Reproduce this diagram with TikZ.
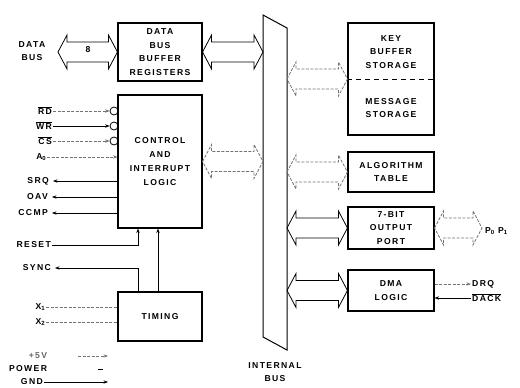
\documentclass[tikz,border=0pt]{standalone}
\usepackage{fontspec}
\setmainfont[LetterSpace=16]{Liberation Sans}
\usetikzlibrary{arrows.meta,calc}
\newcommand{\lbltxt}{\fontsize{8.6}{13.8}\selectfont\bfseries}
\newcommand{\lowsub}[1]{\raisebox{-1.8pt}{\fontsize{6}{6}\selectfont #1}}
\newcommand{\barred}[1]{$\overline{\mbox{#1}}$}
\newcommand{\widebus}[3][]{%
  \draw[wbus,#1] let \p1=(#2), \p2=(#3) in
  (\x1,\y1) -- (\x1+9pt,\y1+17pt) -- (\x1+9pt,\y1+10pt) -- (\x2-9pt,\y1+10pt)
  -- (\x2-9pt,\y1+17pt) -- (\x2,\y1) -- (\x2-9pt,\y1-17pt) -- (\x2-9pt,\y1-10pt)
  -- (\x1+9pt,\y1-10pt) -- (\x1+9pt,\y1-17pt) -- cycle;}
\tikzset{
  box/.style={draw, line width=1.1pt, inner sep=0pt, align=center, font=\lbltxt},
  lbl/.style={font=\lbltxt, inner sep=1pt},
  sig/.style={line width=0.7pt},
  tip/.style={-{Stealth[length=4.5pt,width=3.4pt]}},
  faint/.style={dash pattern=on 3pt off 1.5pt, draw=black!55},
  wbus/.style={line width=0.8pt, line join=miter},
  bubble/.style={circle, draw, line width=0.8pt, minimum size=8pt, inner sep=0pt}
}
\begin{document}
\begin{tikzpicture}[x=1pt,y=-1pt]
\useasboundingbox (0,0) rectangle (520,388);

% blocks
\node[box, minimum width=84pt, minimum height=58pt] (dbb) at (160,52) {DATA\\BUS\\BUFFER\\REGISTERS};
\node[box, minimum width=84pt, minimum height=133pt] (ctl) at (160,161.5) {CONTROL\\AND\\INTERRUPT\\LOGIC};
\node[box, minimum width=84pt, minimum height=49pt] (tim) at (160,316.5) {TIMING};
\node[box, minimum width=86pt, minimum height=112pt] (kbs) at (391,79) {};
\node[lbl, align=center] (kbt) at (391,52) {KEY\\BUFFER\\STORAGE};
\node[lbl, align=center] (mst) at (391,108) {MESSAGE\\STORAGE};
\draw[dashed, dash pattern=on 5pt off 4pt, line width=1pt] (kbs.west) -- (kbs.east);
\node[box, minimum width=86pt, minimum height=40pt] (alg) at (391,172) {ALGORITHM\\TABLE};
\node[box, minimum width=86pt, minimum height=42pt] (opp) at (391,228) {7-BIT\\OUTPUT\\PORT};
\node[box, minimum width=86pt, minimum height=41pt] (dma) at (391,290.5) {DMA\\LOGIC};

% internal bus
\coordinate (busTL) at (263,15);
\coordinate (busTR) at (287,28);
\coordinate (busBR) at (287,350);
\coordinate (busBL) at (263,337);
\draw[line width=1pt, line join=miter] (busTL) -- (busTR) -- (busBR) -- (busBL) -- cycle;
\coordinate (bl) at (263,0);
\coordinate (br) at (287,0);
\node[lbl, align=center] (ib) at (275,372) {INTERNAL\\BUS};

% data bus
\coordinate (dbL) at (58,52);
\node[lbl, align=center] (db) at (32,51) {DATA\\BUS};
\widebus{dbL}{dbb.west}
\node[lbl] (eight) at (88,50) {8};
\widebus{dbb.east}{dbb.east -| bl}
\widebus[faint]{ctl.east}{ctl.east -| bl}
\widebus[faint]{kbs.west -| br}{kbs.west}
\widebus[faint]{alg.west -| br}{alg.west}
\widebus{opp.west -| br}{opp.west}
\widebus{dma.west -| br}{dma.west}
\coordinate (pR) at (482,228);
\widebus[faint]{opp.east}{pR}
\node[lbl, anchor=west] (pp) at (484,231) {P\lowsub{0} P\lowsub{1}};

% control inputs
\node[bubble] (c1) at (114,111) {};
\node[bubble] (c2) at (114,126) {};
\node[bubble] (c3) at (114,141) {};
\node[lbl, anchor=east] (rd) at (53,111) {\barred{RD}};
\node[lbl, anchor=east] (wr) at (53,126) {\barred{WR}};
\node[lbl, anchor=east] (cs) at (53,141) {\barred{CS}};
\node[lbl, anchor=east] (a0) at (47,157) {A\lowsub{0}};
\draw[sig,tip,faint] (rd.east) -- (c1.west);
\draw[sig,tip] (wr.east) -- (c2.west);
\draw[sig,tip,faint] (cs.east) -- (c3.west);
\draw[sig,tip,faint] (a0.east) -- (a0.east -| ctl.west);

% control outputs
\node[lbl, anchor=east] (srq) at (50,181) {SRQ};
\node[lbl, anchor=east] (oav) at (49,197) {OAV};
\node[lbl, anchor=east] (ccmp) at (49,213) {CCMP};
\draw[sig,tip] (srq.east -| ctl.west) -- ([xshift=3pt]srq.east);
\draw[sig,tip] (oav.east -| ctl.west) -- ([xshift=3pt]oav.east);
\draw[sig,tip] (ccmp.east -| ctl.west) -- ([xshift=3pt]ccmp.east);

% reset / sync / timing
\coordinate (xa) at (138,0);
\coordinate (xb) at (158,0);
\node[lbl, anchor=east] (reset) at (52,245) {RESET};
\node[lbl, anchor=east] (sync) at (52,268) {SYNC};
\draw[sig,tip] (reset.east) -| (ctl.south -| xa);
\draw[sig,tip] (tim.north -| xa) |- ([xshift=3pt]sync.east);
\draw[sig,tip] (tim.north -| xb) -- (ctl.south -| xb);
\node[lbl, anchor=east] (x1) at (46,307) {X\lowsub{1}};
\node[lbl, anchor=east] (x2) at (46,322) {X\lowsub{2}};
\draw[sig,faint] (x1.east) -- (x1.east -| tim.west);
\draw[sig,faint] (x2.east) -- (x2.east -| tim.west);

% power
\coordinate (px) at (108,0);
\node[lbl, text=black!60] (v5) at (38,356) {+5V};
\node[lbl] (power) at (28,369) {POWER};
\node[lbl, anchor=east] (gnd) at (44,382) {GND};
\draw[sig,tip,faint] ([xshift=30pt]v5.east) -- (v5.east -| px);
\draw[sig] ([xshift=50pt]power.east) -- ++(5,0);
\draw[sig,tip] (gnd.east) -- (gnd.east -| px);

% DMA signals
\node[lbl, anchor=west] (drq) at (471,284) {DRQ};
\node[lbl, anchor=west] (dack) at (471,298) {\barred{DACK}};
\draw[sig,tip,faint] (drq.west -| dma.east) -- (drq.west);
\draw[sig,tip] (dack.west) -- (dack.west -| dma.east);
\end{tikzpicture}
\end{document}
